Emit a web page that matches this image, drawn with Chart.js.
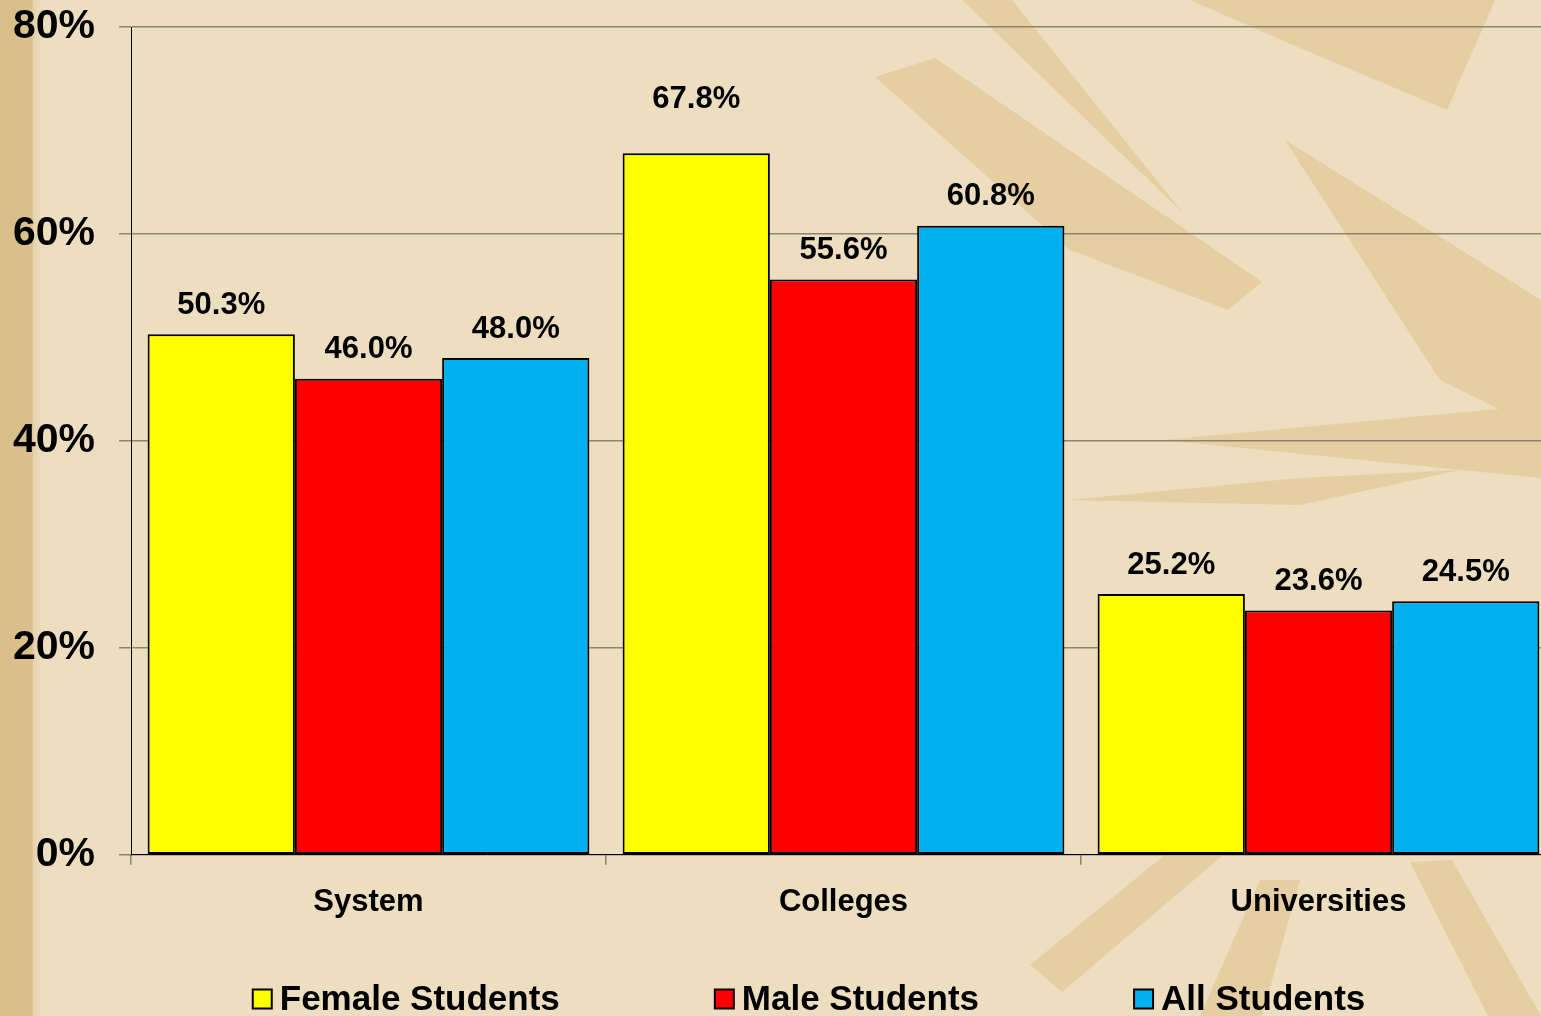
<!DOCTYPE html>
<html>
<head>
<meta charset="utf-8">
<script src="https://cdn.jsdelivr.net/npm/chart.js@4.4.1/dist/chart.umd.min.js"></script>
<style>
  html, body { margin: 0; padding: 0; overflow: hidden; background: #EDDEC0; }
  #wrap { position: relative; width: 1556px; height: 1016px; }
</style>
</head>
<body>
<div id="wrap"><canvas id="chart"></canvas></div>
<script>
const categories = ['System', 'Colleges', 'Universities'];
const seriesNames = ['Female Students', 'Male Students', 'All Students'];
const femaleValues = [50.3, 67.8, 25.2];
const maleValues = [46.0, 55.6, 23.6];
const allValues = [48.0, 60.8, 24.5];
const yTicks = [0, 20, 40, 60, 80];

const FONT = '"Liberation Sans", Arial, sans-serif';

// faint sunburst shapes of the slide background + tan strip on the left
const backdrop = {
    id: 'backdrop',
    beforeDraw(chart) {
        const ctx = chart.ctx;
        ctx.save();
        ctx.fillStyle = '#EDDEC0';
        ctx.fillRect(0, 0, chart.width, chart.height);
        ctx.fillStyle = '#E4CEA2';
        const shapes = [
            [[875, 77], [935, 58], [1262, 282], [1228, 310], [1070, 250]],
            [[962, 0], [1012, 0], [1183, 213]],
            [[1190, 0], [1495, 0], [1447, 110], [1300, 48]],
            [[1285, 140], [1541, 300], [1541, 430], [1440, 380]],
            [[1163, 440], [1541, 405], [1541, 478]],
            [[1068, 500], [1300, 478], [1460, 470], [1300, 505]],
            [[1030, 965], [1062, 992], [1262, 822], [1232, 800]],
            [[1410, 862], [1452, 860], [1541, 1016], [1488, 1016]],
            [[1200, 1016], [1260, 880], [1300, 880], [1262, 1016]]
        ];
        shapes.forEach(pts => {
            ctx.beginPath();
            pts.forEach(([x, y], k) => k ? ctx.lineTo(x, y) : ctx.moveTo(x, y));
            ctx.closePath();
            ctx.fill();
        });
        const g = ctx.createLinearGradient(0, 0, 42, 0);
        g.addColorStop(0, '#D8BF8A');
        g.addColorStop(0.76, '#D9C08C');
        g.addColorStop(0.8, '#E6D3AC');
        g.addColorStop(1, '#EDDEC0');
        ctx.fillStyle = g;
        ctx.fillRect(0, 0, 42, chart.height);
        ctx.restore();
    }
};

// value labels above each bar
const valueLabels = {
    id: 'valueLabels',
    afterDatasetsDraw(chart, args, opts) {
        const ctx = chart.ctx;
        ctx.save();
        ctx.font = 'bold 31px ' + FONT;
        ctx.fillStyle = '#000';
        ctx.textAlign = 'center';
        ctx.textBaseline = 'middle';
        chart.data.datasets.forEach((ds, di) => {
            chart.getDatasetMeta(di).data.forEach((bar, i) => {
                let lift = opts.lift;
                (opts.nudges || []).forEach(n => { if (n.dataset === di && n.index === i) lift += n.dy; });
                ctx.fillText(ds.data[i].toFixed(1) + '%', bar.x, bar.y - lift);
            });
        });
        ctx.restore();
    }
};

// widely spaced legend along the bottom edge
const spreadLegend = {
    id: 'spreadLegend',
    afterDraw(chart, args, opts) {
        const ctx = chart.ctx;
        ctx.save();
        ctx.font = 'bold 35px ' + FONT;
        ctx.textBaseline = 'middle';
        const box = 19, gap = 8;
        const items = chart.data.datasets.map(ds => ({
            text: ds.label, color: ds.backgroundColor,
            w: box + gap + ctx.measureText(ds.label).width
        }));
        const total = items.reduce((s, it) => s + it.w, 0) + opts.spacing * (items.length - 1);
        let x = opts.centerX - total / 2;
        const y = opts.y;
        items.forEach(it => {
            ctx.fillStyle = it.color;
            ctx.fillRect(x, y - box / 2, box, box);
            ctx.lineWidth = 2;
            ctx.strokeStyle = '#000';
            ctx.strokeRect(x, y - box / 2, box, box);
            ctx.fillStyle = '#000';
            ctx.fillText(it.text, x + box + gap, y + 1);
            x += it.w + opts.spacing;
        });
        ctx.restore();
    }
};

const barStyle = { borderColor: '#000', borderWidth: 2, borderSkipped: false, barPercentage: 1, categoryPercentage: 0.93 };

new Chart(document.getElementById('chart'), {
    type: 'bar',
    data: {
        labels: categories,
        datasets: [
            Object.assign({ label: seriesNames[0], data: femaleValues, backgroundColor: '#FFFF00' }, barStyle),
            Object.assign({ label: seriesNames[1], data: maleValues, backgroundColor: '#FF0000' }, barStyle),
            Object.assign({ label: seriesNames[2], data: allValues, backgroundColor: '#00B0F0' }, barStyle)
        ]
    },
    options: {
        responsive: true,
        maintainAspectRatio: false,
        animation: false,
        layout: { padding: { left: 0, top: 27, right: 0, bottom: 76 } },
        plugins: {
            legend: { display: false },
            tooltip: { enabled: false },
            valueLabels: { lift: 29, nudges: [{ dataset: 0, index: 1, dy: 25 }] },
            spreadLegend: { centerX: 809, y: 999, spacing: 155 }
        },
        scales: {
            y: {
                min: yTicks[0],
                max: yTicks[yTicks.length - 1],
                afterBuildTicks: s => { s.ticks = yTicks.map(v => ({ value: v })); },
                afterFit: s => { s.width = 131; s.paddingTop = 0; s.paddingBottom = 0; },
                ticks: {
                    callback: v => v + '%',
                    color: '#000',
                    padding: 24,
                    font: { family: FONT, size: 41, weight: 'bold' }
                },
                grid: { color: '#8d846f', lineWidth: 1.5, tickLength: 12 },
                border: { color: '#000', width: 1 }
            },
            x: {
                ticks: {
                    color: '#000',
                    padding: 19,
                    font: { family: FONT, size: 31, weight: 'bold' }
                },
                grid: { drawOnChartArea: false, color: '#8d846f', lineWidth: 1.5, tickLength: 10 },
                border: { color: '#000', width: 1 }
            }
        }
    },
    plugins: [backdrop, valueLabels, spreadLegend]
});
</script>
</body>
</html>
